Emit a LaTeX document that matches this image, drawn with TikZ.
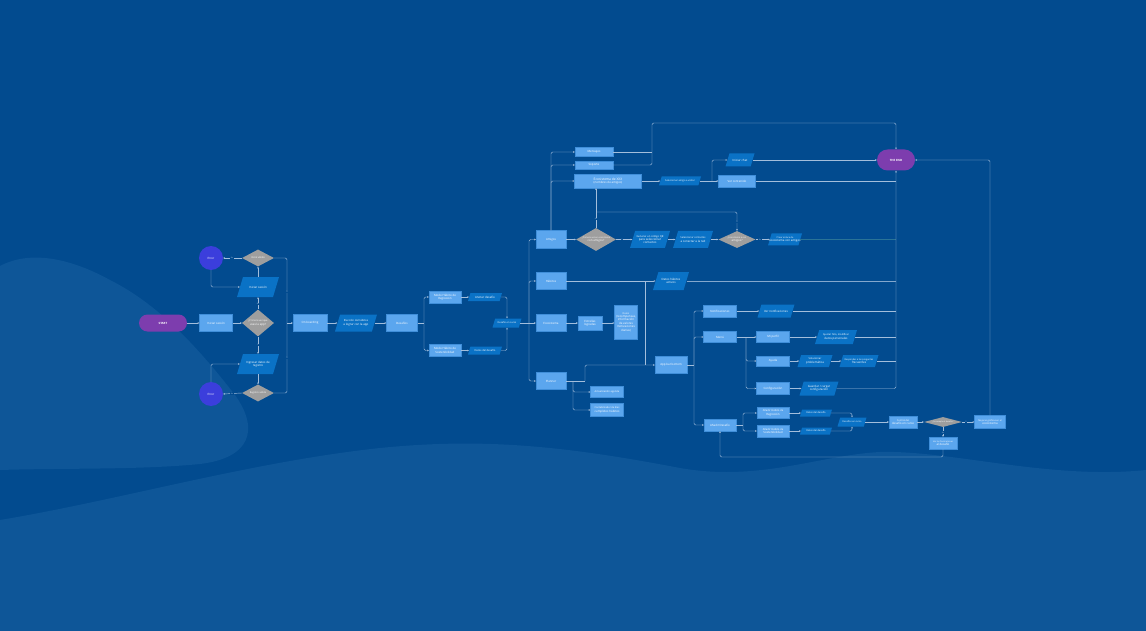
\documentclass[tikz,border=0pt]{standalone}
\usepackage{fontspec}
\setmainfont{Open Sans}
\usetikzlibrary{shapes.geometric,arrows.meta,calc}
\definecolor{bgc}{HTML}{024B8F}
\definecolor{wavec}{HTML}{0E5698}
\definecolor{boxc}{HTML}{5BA6EE}
\definecolor{boxd}{HTML}{3F8ED9}
\definecolor{parac}{HTML}{0A72C6}
\definecolor{diac}{HTML}{9E9E9E}
\definecolor{errc}{HTML}{3B3EDC}
\definecolor{pillc}{HTML}{7D3DAE}
\definecolor{linec}{HTML}{A3BEDC}
\definecolor{darkl}{HTML}{2A7397}
\newcommand\mknode[4]{\node[#1] (#2) at (#3) {}; \node at (#2.center) {#4};}
\newcommand\mkpara[5]{%
  \pgfmathsetmacro\parOff{0.3*#4}%
  \pgfmathsetmacro\parW{#3-\parOff}%
  \node[rectangle, minimum width=\parW pt, minimum height=#4pt] (#1) at (#2) {};
  \fill[parac] ($(#1.center)+(-#3/2,#4/2)$) -- ($(#1.center)+(#3/2-\parOff,#4/2)$) -- ($(#1.center)+(#3/2,-#4/2)$) -- ($(#1.center)+(-#3/2+\parOff,-#4/2)$) -- cycle;
  \node at (#1.center) {#5};}
\newcommand\fsz[1]{\fontsize{#1}{#1}\selectfont}
\begin{document}
\begin{tikzpicture}[x=1pt,y=-1pt,
  every node/.style={font=\fontsize{2.9}{3.4}\selectfont, text=white, align=center, inner sep=0pt},
  bx/.style 2 args={rectangle, fill=boxc, draw=boxd, line width=0.3pt, minimum width=#1pt, minimum height=#2pt},
  di/.style 2 args={diamond, aspect=2, fill=diac, minimum width=#1pt, minimum height=#2pt},
  pill/.style 2 args={rectangle, rounded corners=#2/2*1pt, fill=pillc, minimum width=#1pt, minimum height=#2pt},
  errnode/.style={circle, fill=errc, minimum size=24pt},
  conn/.style={draw=linec, line width=0.45pt, rounded corners=1.5pt},
  arr/.style={-{Stealth[length=1.8pt,width=1.7pt]}},
  lab/.style={fill=bgc, text=linec, font=\fontsize{1.8}{2}\selectfont, inner sep=0.4pt}
]
\useasboundingbox (0,0) rectangle (1146,631);
\fill[bgc] (0,0) rectangle (1146,631);
\fill[wavec] (0,266) .. controls (30,250) and (70,258) .. (110,280) .. controls (160,305) and (200,350) .. (235,395) .. controls (260,430) and (250,458) .. (200,464) .. controls (140,470) and (60,468) .. (0,470) -- cycle;
\fill[wavec] (0,520) .. controls (120,500) and (250,462) .. (380,448) .. controls (480,438) and (560,445) .. (680,468) .. controls (760,482) and (820,455) .. (880,452) .. controls (950,450) and (1050,480) .. (1146,470) -- (1146,631) -- (0,631) -- cycle;

% ---- left part
\mknode{pill={48}{17}}{start}{163,323}{\bfseries START}
\mknode{bx={33}{17}}{login}{216,323}{Iniciar sesión}
\mknode{di={32}{27}}{d0}{258,323}{\fsz{2.4}¿Primera vez que\\usas la app?}
\mkpara{p1}{258,287}{42}{20}{Iniciar sesión}
\mknode{di={32}{17}}{d1}{258,258}{\fsz{2.5}Inicio válido}
\mknode{errnode}{e1}{211,258}{Error}
\mkpara{p2}{258,364}{42}{20}{Ingresar datos de\\registro}
\mknode{di={32}{17}}{d2}{258,393}{\fsz{2.4}Registro válido}
\mknode{errnode}{e2}{211,394}{Error}
\coordinate (jR) at (287,323);

\mknode{bx={34}{17}}{onb}{310,323}{On boarding}
\mkpara{elec}{356,323}{42}{17}{\fsz{2.7}Elección de hábitos\\a lograr con la app}
\mknode{bx={31}{17}}{desf}{402,323}{Desafíos}
\coordinate (jD) at (424,323);
\mknode{bx={32}{12}}{mreg}{445,297}{Modo Hábito de\\Regresión}
\mknode{bx={32}{12}}{msos}{445,350.5}{Modo Hábito de\\Sostenibilidad}
\mkpara{anot}{485,297}{34}{8}{Anotar desafío}
\mkpara{dat1}{485,350.5}{34}{8}{\fsz{2.6}Datos del desafío}
\mkpara{encu}{507,323}{29}{9}{\fsz{2.4}Desafío en curso}
\coordinate (jA) at (529,323);

% ---- four main sections
\mknode{bx={30}{18}}{amig}{551,239.5}{Amigos}
\mknode{bx={30}{17}}{hab}{551,281}{Hábitos}
\mknode{bx={30}{17}}{eco}{551,323}{Ecosistema}
\mknode{bx={30}{17}}{plan}{551,381}{Planner}

% amigos
\mknode{bx={38}{9}}{mens}{594,152}{Mensajes}
\mknode{bx={38}{8}}{sop}{594,165}{Soporte}
\mknode{bx={67}{14}}{ecx}{608,181}{\fontsize{3.3}{3.9}\selectfont Ecosistema de XXX\\(nombres de amigos)}
\mkpara{selam}{680,181}{42}{9}{\fsz{2.4}Seleccionar amigo a visitar}
\coordinate (jS) at (712,181);
\mkpara{chat}{740,160}{29}{13}{Iniciar chat}
\mknode{bx={37}{12}}{verc}{737,181}{Ver contenido}
\mknode{pill={38}{21}}{end}{896,160}{\bfseries THE END}
\mknode{di={40}{23}}{d3}{596,239.5}{\fsz{2.2}¿Primera vez en ecosistema\\con amigos?}
\mkpara{gen}{650,239.5}{40}{17}{\fsz{2.6}Generar un código QR\\para seleccionar\\contactos}
\mkpara{selc}{693,239.5}{40}{17}{\fsz{2.5}Seleccionar contactos\\a conectar a la red}
\mknode{di={37}{17}}{d4}{737,239.5}{\fsz{2.2}¿Ecosistema a con\\amigos?}
\mkpara{crear}{785,239.5}{34}{12}{\fsz{2.3}Crear enlace de\\ecosistema con amigos}

% habitos / ecosistema / planner
\mkpara{dha}{671,281}{36}{18}{Datos hábitos\\activos}
\coordinate (jH) at (645,281);
\mknode{bx={24}{14}}{est}{590,323}{Estrellas\\logradas}
\mknode{bx={23}{34}}{dtall}{626,322}{\fontsize{2.4}{3.1}\selectfont Datos\\(recompensas,\\información\\de valores\\motivaciones\\diarias)}
\coordinate (jP) at (573,381);
\mknode{bx={33}{11}}{act}{607,392}{\fsz{2.5}Actualización agenda}
\mknode{bx={33}{13}}{cont}{607,410}{\fontsize{2.4}{2.9}\selectfont Contabilizador de días\\cumplidos hábitos}

% app bar bottom
\mknode{bx={32}{17}}{appb}{671,365}{App bar bottom}
\coordinate (jB) at (694,365);
\mknode{bx={33}{12}}{noti}{720,311}{Notificaciones}
\mknode{bx={33}{11}}{menu}{720,337}{Menú}
\mknode{bx={32}{12}}{addd}{720,425}{Añadir Desafío}
\mkpara{vnot}{776,311}{37}{13}{Ver notificaciones}
\coordinate (jN) at (746,337);
\mknode{bx={33}{11}}{perf}{773,337}{Mi perfil}
\mkpara{ajf}{836,337}{42}{14}{\fontsize{2.5}{3}\selectfont Ajustar foto, modificar\\datos personales}
\mknode{bx={33}{10}}{ayu}{773,361}{Ayuda}
\mkpara{sol}{815,361}{35}{12}{\fontsize{2.6}{3.1}\selectfont Solucionar\\problemática}
\mkpara{resp}{859,361}{39}{12}{\fontsize{2.3}{2.9}\selectfont Responder a las preguntas\\frecuentes}
\mknode{bx={33}{12}}{conf}{773,388.5}{Configuración}
\mkpara{guar}{819,388.5}{39}{14}{Guardar / cargar\\configuración}

% añadir desafio
\coordinate (jF) at (743,425);
\mknode{bx={32}{11}}{areg}{773,413}{\fontsize{2.6}{3}\selectfont Añadir Hábito de\\Regresión}
\mknode{bx={32}{12}}{asos}{773,431}{\fontsize{2.6}{3}\selectfont Añadir Hábito de\\Sostenibilidad}
\mkpara{dd1}{816,413}{32}{7}{\fsz{2.4}Datos del desafío}
\mkpara{dd2}{816,431}{32}{7}{\fsz{2.4}Datos del desafío}
\mkpara{dec}{852,422}{29}{9}{\fsz{2.3}Desafíos en curso}
\mknode{bx={28}{12}}{ctrl}{903,422}{\fontsize{2.4}{2.9}\selectfont Control del\\desafío en curso}
\mknode{di={38}{10}}{d5}{943,422}{\fsz{2.0}¿Se cumple el desafío?}
\mknode{bx={31}{13}}{mej}{990,422}{\fontsize{2.3}{2.9}\selectfont Mejoras gráficas en el\\ecosistema}
\mknode{bx={28}{12}}{vfr}{943,443}{\fontsize{2.1}{2.7}\selectfont Ver las frustraciones\\al desafío}

% ---- connectors left
\draw[conn,arr] (start) -- (login);
\draw[conn,arr] (login) -- (d0);
\draw[conn,arr] (d0.north) -- (p1.south);
\draw[conn,arr] (p1.north) -- (d1.south);
\draw[conn,arr] (d1.west) -- (e1.east);
\draw[conn,arr] (e1.south) |- (p1.west);
\draw[conn,arr] (d0.south) -- (p2.north);
\draw[conn,arr] (p2.south) -- (d2.north);
\draw[conn,arr] (d2.west) -- (e2.east);
\draw[conn,arr] (e2.north) |- (p2.west);
\draw[conn] (d1.east) -| (jR);
\draw[conn] (d2.east) -| (jR);
\draw[conn,arr] (jR) -- (onb.west);
\draw[conn,arr] (onb) -- (elec);
\draw[conn,arr] (elec) -- (desf);
\draw[conn] (desf.east) -- (jD);
\draw[conn,arr] (jD) |- (mreg.west);
\draw[conn,arr] (jD) |- (msos.west);
\draw[conn,arr] (mreg) -- (anot);
\draw[conn,arr] (msos) -- (dat1);
\draw[conn,arr] (anot.east) -| (encu.north);
\draw[conn,arr] (dat1.east) -| (encu.south);
\draw[conn] (encu.east) -- (jA);
\draw[conn,arr] (jA) |- (amig.west);
\draw[conn,arr] (jA) |- (hab.west);
\draw[conn,arr] (jA) -- (eco.west);
\draw[conn,arr] (jA) |- (plan.west);

% amigos connectors
\draw[conn,arr] (amig.north) |- (mens.west);
\draw[conn,arr] (amig.north) |- (sop.west);
\draw[conn,arr] (amig.north) |- (ecx.west);
\draw[conn] (mens.east) -- (652,152);
\draw[conn,arr] (sop.east) -- (652,165) -- (652,123) -| (end.north);
\draw[conn,arr] (ecx.east) -- (selam.west);
\draw[conn] (selam.east) -- (jS);
\draw[conn,arr] (jS) |- (chat.west);
\draw[conn,arr] (jS) -- (verc.west);
\draw[conn,arr] (chat.east) -- (end.west);
\draw[conn,arr] (d3.north) -- (d3.north |- ecx.south);
\draw[conn,arr] (596,212) -| (d4.north);
\draw[conn,arr] (amig) -- (d3);
\draw[conn,arr] (d3) -- (gen);
\draw[conn,arr] (gen) -- (selc);
\draw[conn,arr] (selc) -- (d4);
\draw[conn,arr] (d4) -- (crear);
\draw[darkl, line width=0.5pt] (crear.east) -- (crear.east -| end.south);

% collector at x=896
\draw[conn,arr] (guar.east) -| (end.south);
\draw[conn] (verc.east) -- (verc.east -| end.south);
\draw[conn, line width=1pt, draw=linec!80!bgc] (dha.east) -- (dha.east -| end.south);
\draw[conn] (vnot.east) -- (vnot.east -| end.south);
\draw[conn] (ajf.east) -- (ajf.east -| end.south);
\draw[conn] (resp.east) -- (resp.east -| end.south);

% habitos / eco / planner
\draw[conn,arr] (hab.east) -- (dha.west);
\draw[conn] (jH) -- (645,365);
\draw[conn,arr] (eco) -- (est);
\draw[conn,arr] (est.east) -- (est.east -| dtall.west);
\draw[conn] (plan.east) -- (585,381);
\draw[conn,arr] (585,381) |- (appb.west);
\draw[conn,arr] (jP) |- (act.west);
\draw[conn,arr] (jP) |- (cont.west);

% app bar
\draw[conn] (appb.east) -- (jB);
\draw[conn,arr] (jB) |- (noti.west);
\draw[conn,arr] (jB) |- (menu.west);
\draw[conn,arr] (jB) |- (addd.west);
\draw[conn,arr] (noti) -- (vnot);
\draw[conn] (menu.east) -- (jN);
\draw[conn,arr] (jN) -- (perf.west);
\draw[conn,arr] (jN) |- (ayu.west);
\draw[conn,arr] (jN) |- (conf.west);
\draw[conn,arr] (perf) -- (ajf);
\draw[conn,arr] (ayu) -- (sol);
\draw[conn,arr] (sol) -- (resp);
\draw[conn,arr] (conf) -- (guar);

% añadir desafio
\draw[conn] (addd.east) -- (jF);
\draw[conn,arr] (jF) |- (areg.west);
\draw[conn,arr] (jF) |- (asos.west);
\draw[conn,arr] (areg) -- (dd1);
\draw[conn,arr] (asos) -- (dd2);
\draw[conn,arr] (dd1.east) -| (dec.north);
\draw[conn,arr] (dd2.east) -| (dec.south);
\draw[conn,arr] (dec) -- (ctrl);
\draw[conn,arr] (ctrl) -- (d5);
\draw[conn,arr] (d5) -- (mej);
\draw[conn,arr] (d5.south) -- (vfr.north);
\draw[conn,arr] (vfr.south) -- (943,457) -| (addd.south);
\draw[conn,arr] (mej.north) |- (end.east);

% yes / no labels
\node[lab] at (258,304) {No};
\node[lab] at (258,345) {Sí};
\node[lab] at (232,258) {No};
\node[lab] at (232,393.5) {No};
\node[lab] at (287,292) {Sí};
\node[lab] at (287,358) {Sí};
\node[lab] at (596,219) {No};
\node[lab] at (622,239.5) {Sí};
\node[lab] at (737,222) {Sí};
\node[lab] at (760,239.5) {No};
\node[lab] at (966,422) {Sí};
\node[lab] at (943,432.5) {No};
\end{tikzpicture}
\end{document}
